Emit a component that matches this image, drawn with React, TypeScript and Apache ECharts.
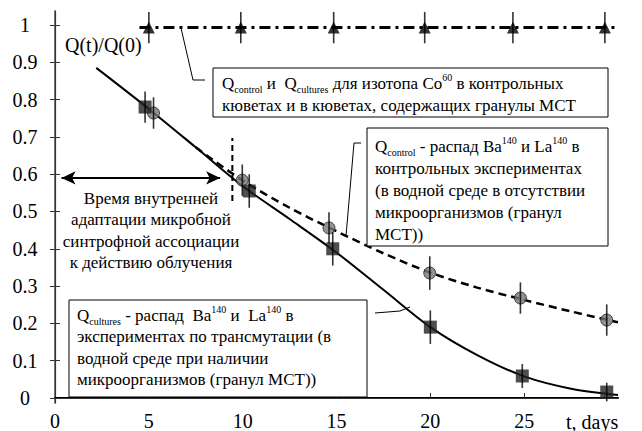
import React, { useEffect, useRef } from "react";
import * as echarts from "echarts";

const FONT = "Liberation Serif";

// Measured points
const cultX = [4.8, 10.35, 14.8, 20.0, 24.9, 29.4];
const cultY = [0.78, 0.555, 0.4, 0.19, 0.059, 0.016];
const cultErr = [0.042, 0.045, 0.045, 0.045, 0.032, 0.025];

const ctrlX = [5.25, 9.98, 14.6, 19.97, 24.8, 29.4];
const ctrlY = [0.764, 0.584, 0.456, 0.335, 0.268, 0.209];
const ctrlErr = [0.042, 0.042, 0.042, 0.045, 0.042, 0.042];

const coX = [5.0, 9.9, 14.85, 19.7, 24.4, 29.3];
const coY = [0.993, 0.993, 0.993, 0.993, 0.993, 0.993];
const coErr = [0.042, 0.042, 0.042, 0.042, 0.042, 0.042];

// Fitted curves
const cultCurveX = [2.2, 5, 7.5, 10, 12.5, 15, 17.5, 20, 22.5, 25, 27.5, 30];
const cultCurveY = [0.885, 0.775, 0.672, 0.568, 0.48, 0.39, 0.29, 0.19, 0.115, 0.058, 0.025, 0.008];
const ctrlCurveX = [7.5, 10, 12.5, 15, 17.5, 20, 22.5, 25, 27.5, 30];
const ctrlCurveY = [0.672, 0.583, 0.51, 0.447, 0.388, 0.336, 0.296, 0.263, 0.232, 0.203];
const coLineX = [4.5, 30];
const coLineY = [0.993, 0.993];

// Adaptation marker
const adaptLineX = [9.45, 9.45];
const adaptLineY = [0.528, 0.697];
const arrowX = [0.35, 8.8];
const arrowY = [0.59, 0.59];

const yTicks = [0, 0.1, 0.2, 0.3, 0.4, 0.5, 0.6, 0.7, 0.8, 0.9, 1];
const xTickLabels = [0, 5, 10, 15, 20, 25];
const xTicks = [5, 10, 15, 20, 25];

const Y_MIN = -0.0134;
const Y_MAX = 1.0375;
const GRID_TOP = 11;
const GRID_BOTTOM = 28;
const PLOT_H = 431 - GRID_TOP - GRID_BOTTOM;
const PX_PER_UNIT = PLOT_H / (Y_MAX - Y_MIN);

const zip = (xs: number[], ys: number[]) => xs.map((x, i) => [x, ys[i]]);
const zip3 = (xs: number[], ys: number[], es: number[]) => xs.map((x, i) => [x, ys[i], es[i]]);

const errSeries = (xs: number[], ys: number[], es: number[]) => ({
  type: "scatter",
  data: zip3(xs, ys, es),
  symbol: "rect",
  symbolSize: (v: number[]) => [1.6, v[2] * 2 * PX_PER_UNIT],
  itemStyle: { color: "#000" },
  z: 5,
  clip: false,
});

const rich = {
  sub: { fontSize: 10, fontFamily: FONT, verticalAlign: "bottom", lineHeight: 22 },
  sup: { fontSize: 10, fontFamily: FONT, verticalAlign: "top", lineHeight: 22 },
};

export default function App() {
  const ref = useRef<HTMLDivElement>(null);
  useEffect(() => {
    if (!ref.current) return;
    const chart = echarts.init(ref.current, null, { renderer: "svg" });
    const option: any = {
      animation: false,
      grid: { left: 55, right: 24, top: GRID_TOP, bottom: GRID_BOTTOM },
      xAxis: [
        {
          type: "value",
          min: 0,
          max: 30,
          interval: 5,
          splitLine: { show: false },
          axisLine: { lineStyle: { color: "#000", width: 2 } },
          axisTick: { inside: true, length: 5, customValues: xTicks, lineStyle: { color: "#333" } },
          axisLabel: { customValues: xTickLabels, fontFamily: FONT, fontSize: 20, color: "#000", margin: 8 },
        },
        {
          type: "value",
          position: "top",
          min: 0,
          max: 30,
          splitLine: { show: false },
          axisLine: { show: true, lineStyle: { color: "#333", width: 1.2 } },
          axisTick: { show: false },
          axisLabel: { show: false },
        },
      ],
      yAxis: [
        {
          type: "value",
          min: Y_MIN,
          max: Y_MAX,
          splitLine: { show: false },
          axisLine: { show: true, lineStyle: { color: "#555", width: 1.5 } },
          axisTick: { inside: true, length: 5, customValues: yTicks, lineStyle: { color: "#333" } },
          axisLabel: {
            customValues: yTicks,
            fontFamily: FONT,
            fontSize: 20,
            color: "#000",
            align: "center",
            margin: 30,
            formatter: (v: number) => String(Math.round(v * 10) / 10),
          },
        },
        {
          type: "value",
          position: "right",
          min: Y_MIN,
          max: Y_MAX,
          splitLine: { show: false },
          axisLine: { show: true, lineStyle: { color: "#333", width: 1.2 } },
          axisTick: { inside: true, length: 5, customValues: yTicks, lineStyle: { color: "#333" } },
          axisLabel: { show: false },
        },
      ],
      series: [
        {
          type: "line",
          data: zip(cultCurveX, cultCurveY),
          smooth: 0.3,
          showSymbol: false,
          lineStyle: { color: "#000", width: 2 },
          z: 2,
        },
        {
          type: "line",
          data: zip(ctrlCurveX, ctrlCurveY),
          smooth: 0.3,
          showSymbol: false,
          lineStyle: { color: "#000", width: 2.5, type: [8, 5] },
          z: 2,
        },
        {
          type: "line",
          data: zip(coLineX, coLineY),
          showSymbol: false,
          lineStyle: { color: "#000", width: 3, type: [11, 5, 3, 5] },
          z: 2,
        },
        {
          type: "line",
          data: zip(adaptLineX, adaptLineY),
          showSymbol: false,
          lineStyle: { color: "#000", width: 2, type: [6, 4] },
          z: 2,
        },
        {
          type: "line",
          data: [
            { value: [arrowX[0], arrowY[0]], symbolRotate: 90 },
            { value: [arrowX[1], arrowY[1]], symbolRotate: -90 },
          ],
          symbol: "arrow",
          symbolSize: [10, 14],
          showSymbol: true,
          itemStyle: { color: "#000" },
          lineStyle: { color: "#000", width: 2 },
          z: 3,
        },
        {
          type: "scatter",
          data: zip(ctrlX, ctrlY),
          symbol: "circle",
          symbolSize: 12,
          itemStyle: { color: "#777", borderColor: "#222", borderWidth: 1 },
          z: 4,
        },
        {
          type: "scatter",
          data: zip(cultX, cultY),
          symbol: "rect",
          symbolSize: 13,
          itemStyle: { color: "#222" },
          z: 4,
        },
        {
          type: "scatter",
          data: zip(coX, coY),
          symbol: "triangle",
          symbolSize: 12,
          itemStyle: { color: "#000" },
          z: 4,
        },
        errSeries(ctrlX, ctrlY, ctrlErr),
        errSeries(cultX, cultY, cultErr),
        errSeries(coX, coY, coErr),
      ],
      graphic: [
        {
          type: "text",
          z: 10,
          style: { x: 65, y: 45, text: "Q(t)/Q(0)", fontSize: 20, fontFamily: FONT, fill: "#000", verticalAlign: "middle" },
        },
        {
          type: "text",
          z: 10,
          style: { x: 566, y: 422, text: "t, days", fontSize: 20, fontFamily: FONT, fill: "#000", verticalAlign: "middle" },
        },
        {
          type: "text",
          z: 10,
          style: {
            x: 151,
            y: 188,
            text: "Время внутренней\nадаптации микробной\nсинтрофной ассоциации\nк действию облучения",
            fontSize: 17,
            fontFamily: FONT,
            lineHeight: 21.3,
            fill: "#000",
            align: "center",
            verticalAlign: "top",
          },
        },
        // Box 1 (Co60)
        { type: "rect", z: 10, shape: { x: 213, y: 68, width: 395, height: 49 }, style: { fill: "#fff", stroke: "#000", lineWidth: 1 } },
        { type: "polyline", z: 10, shape: { points: [[181, 28], [193, 80], [205, 80]] }, style: { stroke: "#000", lineWidth: 1, fill: "none" } },
        {
          type: "text",
          z: 11,
          style: {
            x: 222,
            y: 72,
            text: "Q{sub|control} и  Q{sub|cultures} для изотопа Co{sup|60} в контрольных\nкюветах и в кюветах, содержащих гранулы МСТ",
            fontSize: 17,
            fontFamily: FONT,
            lineHeight: 22,
            fill: "#000",
            verticalAlign: "top",
            rich,
          },
        },
        // Box 2 (control)
        { type: "rect", z: 10, shape: { x: 367, y: 128, width: 241, height: 118 }, style: { fill: "#fff", stroke: "#000", lineWidth: 1 } },
        { type: "polyline", z: 10, shape: { points: [[346, 236], [354, 143], [361, 143]] }, style: { stroke: "#000", lineWidth: 1, fill: "none" } },
        {
          type: "text",
          z: 11,
          style: {
            x: 375,
            y: 135,
            text: "Q{sub|control} - распад Ba{sup|140} и La{sup|140} в\nконтрольных экспериментах\n(в водной среде в отсутствии\nмикроорганизмов (гранул\nМСТ))",
            fontSize: 17,
            fontFamily: FONT,
            lineHeight: 22,
            fill: "#000",
            verticalAlign: "top",
            rich,
          },
        },
        // Box 3 (cultures)
        { type: "rect", z: 10, shape: { x: 69, y: 300, width: 298, height: 97 }, style: { fill: "#fff", stroke: "#000", lineWidth: 1 } },
        { type: "polyline", z: 10, shape: { points: [[375, 313], [400, 311], [410, 307]] }, style: { stroke: "#000", lineWidth: 1, fill: "none" } },
        {
          type: "text",
          z: 11,
          style: {
            x: 77,
            y: 304,
            text: "Q{sub|cultures} - распад  Ba{sup|140} и  La{sup|140} в\nэкспериментах по трансмутации (в\nводной среде при наличии\nмикроорганизмов (гранул МСТ))",
            fontSize: 17,
            fontFamily: FONT,
            lineHeight: 21.5,
            fill: "#000",
            verticalAlign: "top",
            rich,
          },
        },
      ],
    };
    chart.setOption(option);
    return () => chart.dispose();
  }, []);
  return <div ref={ref} style={{ position: "fixed", left: 0, top: 0, width: 642, height: 431, background: "#fff" }} />;
}
